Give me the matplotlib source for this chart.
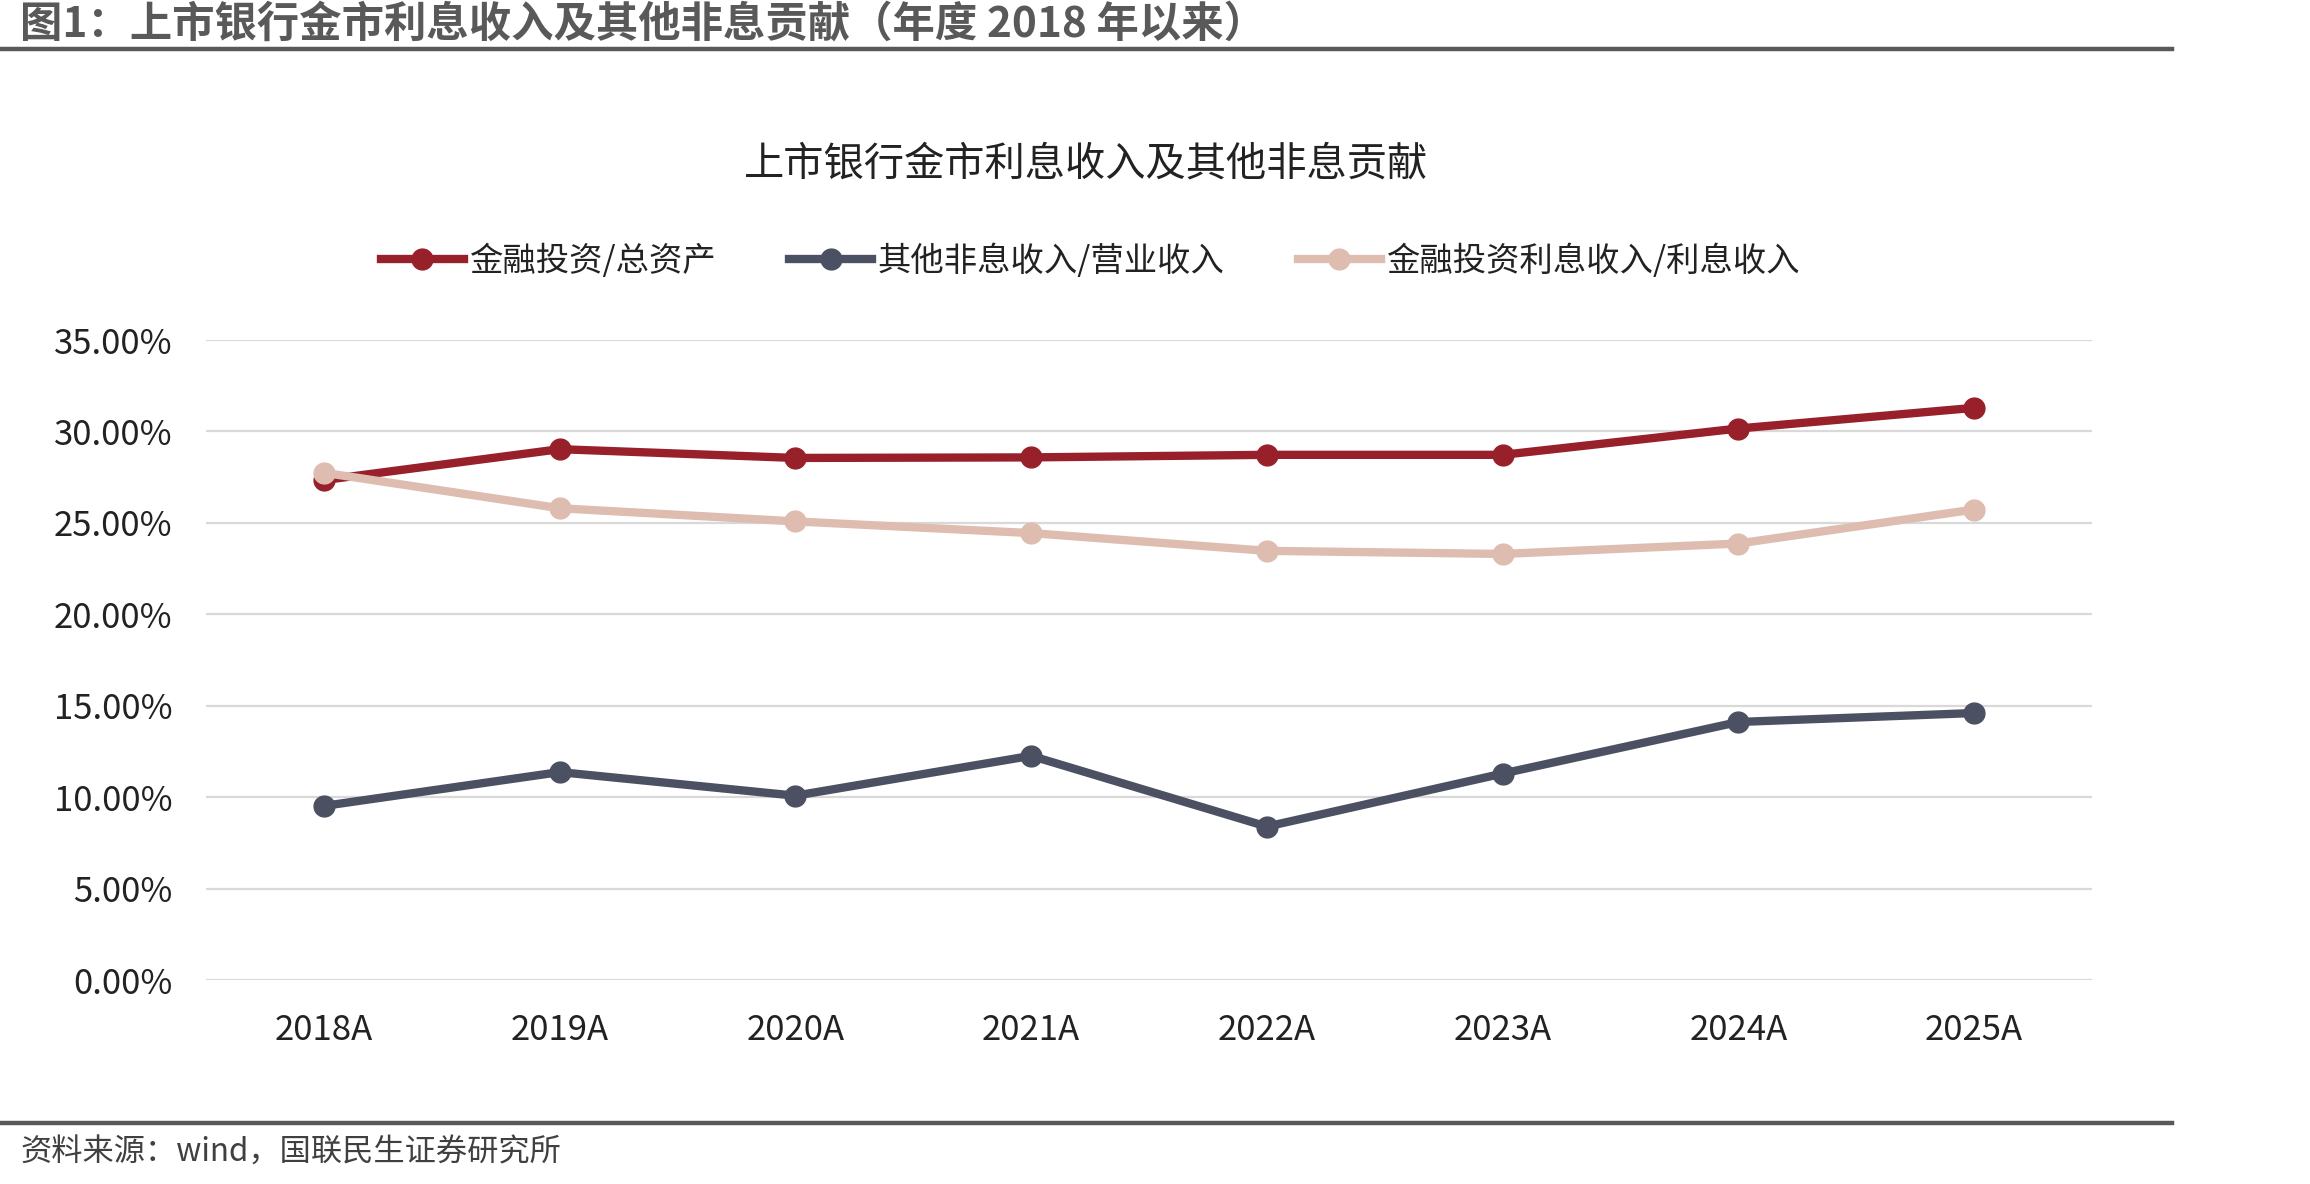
import matplotlib
matplotlib.use("Agg")
import matplotlib.pyplot as plt
from matplotlib.lines import Line2D

plt.rcParams['font.family'] = ['Noto Sans CJK SC', 'DejaVu Sans']

categories = ["2018A", "2019A", "2020A", "2021A", "2022A", "2023A", "2024A", "2025A"]
fin_inv_assets = [27.34, 29.03, 28.55, 28.58, 28.72, 28.72, 30.16, 31.29]
non_int_rev = [9.52, 11.37, 10.08, 12.26, 8.39, 11.29, 14.11, 14.60]
fin_inv_int = [27.74, 25.80, 25.08, 24.44, 23.47, 23.30, 23.87, 25.73]
series_names = ["金融投资/总资产", "其他非息收入/营业收入", "金融投资利息收入/利息收入"]
yticks = [0, 5, 10, 15, 20, 25, 30, 35]
ytick_labels = ["0.00%", "5.00%", "10.00%", "15.00%", "20.00%", "25.00%", "30.00%", "35.00%"]

colors = ["#98202A", "#4B5162", "#DEBDB0"]

W, H = 2310, 1184
fig = plt.figure(figsize=(W / 100, H / 100), dpi=100)

left, right, top, bottom = 206, 2092, 340, 980
ax = fig.add_axes([left / W, 1 - bottom / H, (right - left) / W, (bottom - top) / H])

x = list(range(len(categories)))
for vals, c in zip([fin_inv_assets, non_int_rev, fin_inv_int], colors):
    ax.plot(x, vals, color=c, lw=6, marker='o', ms=15, solid_capstyle='round', zorder=3)

ax.set_xlim(-0.5, len(categories) - 0.5)
ax.set_ylim(0, 35)
ax.set_yticks(yticks)
ax.set_yticklabels(ytick_labels)
ax.set_xticks(x)
ax.set_xticklabels(categories)
ax.tick_params(axis='both', length=0, labelsize=25, colors='#222222')
ax.tick_params(axis='y', pad=24)
ax.tick_params(axis='x', pad=24)
ax.grid(axis='y', color='#D9D9D9', lw=1.6, zorder=0)
ax.set_axisbelow(True)
for s in ax.spines.values():
    s.set_visible(False)

# Chart title
fig.text(1086 / W, 1 - 164 / H, "上市银行金市利息收入及其他非息贡献", ha='center', va='center',
         fontsize=29, color='#222222')

# Legend
handles = [Line2D([0], [0], color=c, lw=6, marker='o', ms=15) for c in colors]
fig.legend(handles, series_names, loc='center', bbox_to_anchor=(1090 / W, 1 - 261 / H),
           ncol=3, frameon=False, fontsize=24, handlelength=2.5, handletextpad=0.15,
           columnspacing=2.2, labelcolor='#222222')

# Header
fig.text(20 / W, 1 - 25 / H, "图1：上市银行金市利息收入及其他非息贡献（年度 2018 年以来）",
         ha='left', va='center', fontsize=30.5, fontweight='bold', color='#595959')
fig.add_artist(Line2D([0, 2172 / W], [1 - 49 / H, 1 - 49 / H], color='#595959', lw=3.2,
                      transform=fig.transFigure))

# Footer
fig.add_artist(Line2D([0, 2172 / W], [1 - 1123 / H, 1 - 1123 / H], color='#595959', lw=3.2,
                      transform=fig.transFigure))
fig.text(20 / W, 1 - 1153 / H, "资料来源：wind，国联民生证券研究所", ha='left', va='center',
         fontsize=22.5, color='#404040')

fig.savefig("out.png", dpi=100)
